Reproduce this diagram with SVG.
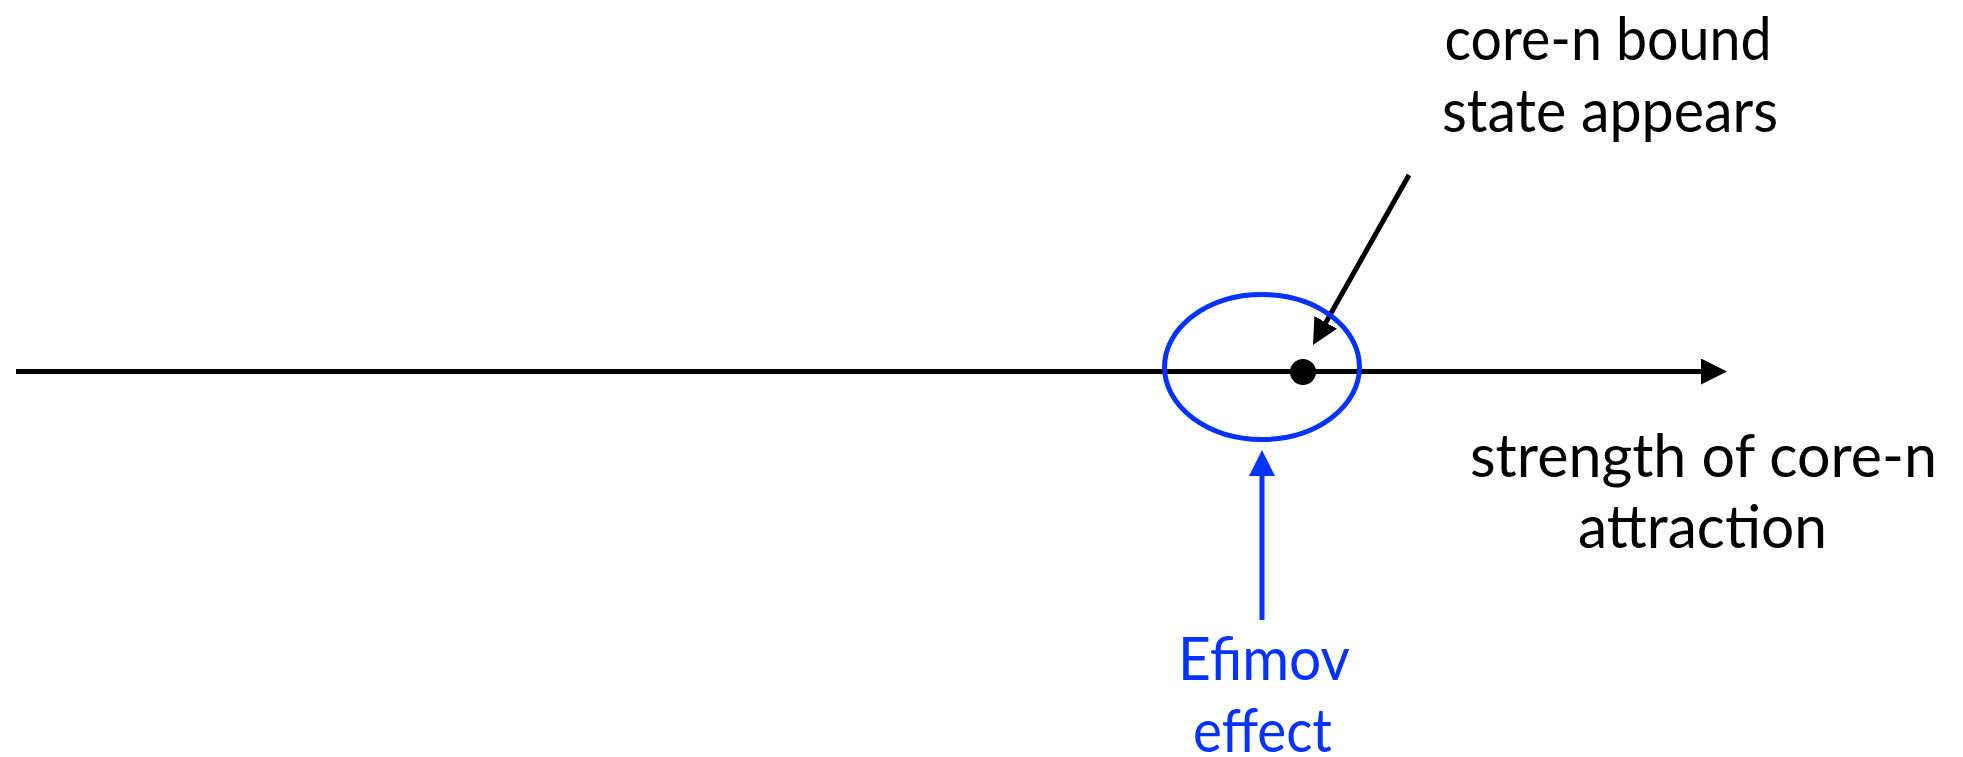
<svg xmlns="http://www.w3.org/2000/svg" width="1963" height="757" viewBox="0 0 1963 757">
<style>
.t{font-family:Lato,"Open Sans","Liberation Sans",sans-serif;font-size:60px;text-anchor:middle}
.k{fill:#000}
.b{fill:#0433FF}
</style>
<defs>
<marker id="ak" markerUnits="userSpaceOnUse" markerWidth="26" markerHeight="26" refX="4" refY="13" orient="auto" viewBox="0 0 26 26"><path d="M0,0 L26,13 L0,26 Z" fill="#000"/></marker>
<marker id="ab" markerUnits="userSpaceOnUse" markerWidth="26" markerHeight="26" refX="4" refY="13" orient="auto" viewBox="0 0 26 26"><path d="M0,0 L26,13 L0,26 Z" fill="#0433FF"/></marker>
</defs>
<rect width="1963" height="757" fill="#fff"/>
<g id="connectors" fill="none" stroke-width="5">
<line id="axis" x1="16" y1="371.5" x2="1705" y2="371.5" stroke="#000" marker-end="url(#ak)"/>
<line id="bound-arrow" x1="1409" y1="175" x2="1323.8" y2="325.9" stroke="#000" marker-end="url(#ak)"/>
<line id="efimov-arrow" x1="1262" y1="620" x2="1262" y2="472" stroke="#0433FF" marker-end="url(#ab)"/>
</g>
<g id="efimov-region"><ellipse cx="1262" cy="367" rx="97.5" ry="72.5" fill="none" stroke="#0433FF" stroke-width="5"/></g>
<g id="bound-point"><circle cx="1303" cy="372" r="13" fill="#000"/></g>
<g id="label-bound"><text class="t k" x="1608" y="60" textLength="327" lengthAdjust="spacingAndGlyphs">core-n bound</text><text class="t k" x="1610" y="132" textLength="336" lengthAdjust="spacingAndGlyphs">state appears</text></g>
<g id="label-axis"><text class="t k" x="1703.5" y="477" textLength="467" lengthAdjust="spacingAndGlyphs">strength of core-n</text><text class="t k" x="1702.5" y="548" textLength="249" lengthAdjust="spacingAndGlyphs">attraction</text></g>
<g id="label-efimov"><text class="t b" x="1264" y="680" textLength="172" lengthAdjust="spacingAndGlyphs">Efimov</text><text class="t b" x="1262.5" y="752" textLength="139" lengthAdjust="spacingAndGlyphs">effect</text></g>
</svg>
